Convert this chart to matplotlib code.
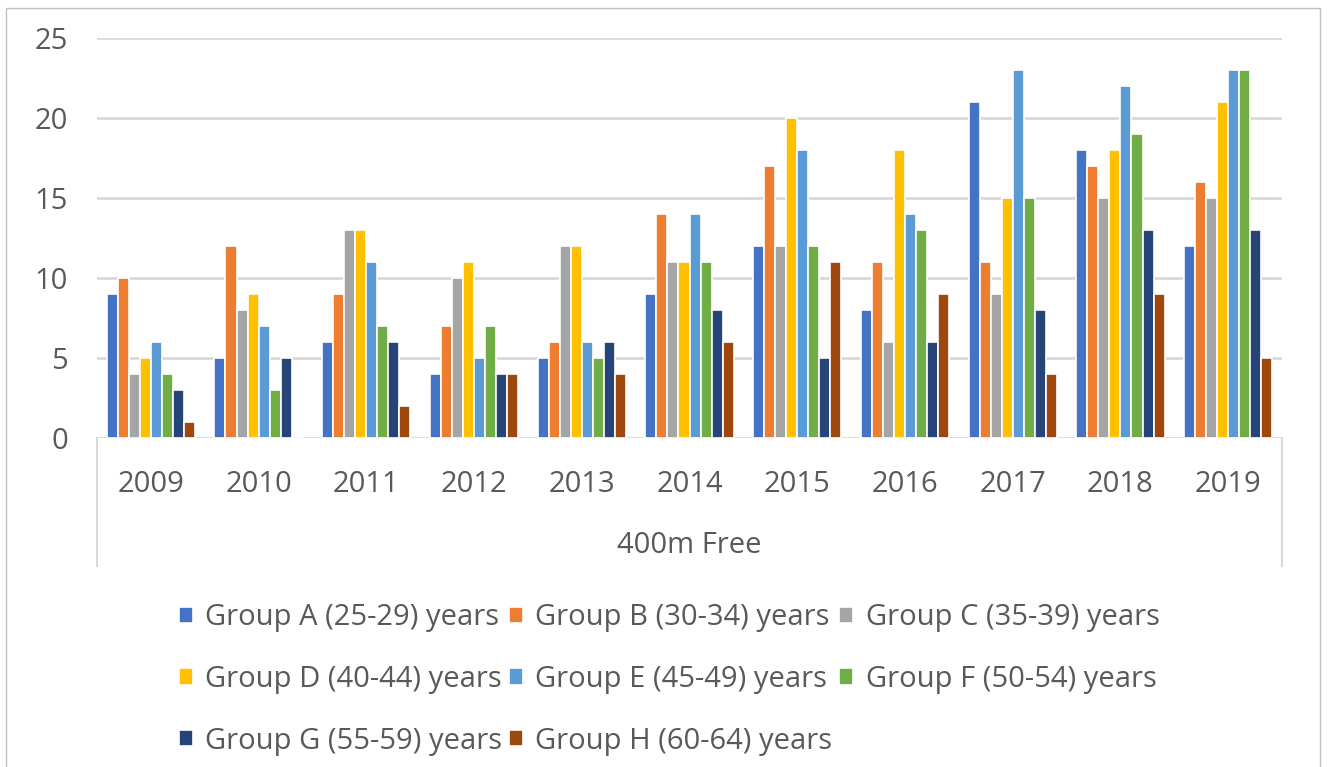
import matplotlib
matplotlib.use("Agg")
import matplotlib.pyplot as plt
from matplotlib.lines import Line2D
from matplotlib.patches import Rectangle
import numpy as np

plt.rcParams['font.family'] = ['Open Sans', 'DejaVu Sans']

years = ['2009', '2010', '2011', '2012', '2013', '2014', '2015', '2016', '2017', '2018', '2019']
groups = ['Group A (25-29) years', 'Group B (30-34) years', 'Group C (35-39) years',
          'Group D (40-44) years', 'Group E (45-49) years', 'Group F (50-54) years',
          'Group G (55-59) years', 'Group H (60-64) years']
group_a = [9, 5, 6, 4, 5, 9, 12, 8, 21, 18, 12]
group_b = [10, 12, 9, 7, 6, 14, 17, 11, 11, 17, 16]
group_c = [4, 8, 13, 10, 12, 11, 12, 6, 9, 15, 15]
group_d = [5, 9, 13, 11, 12, 11, 20, 18, 15, 18, 21]
group_e = [6, 7, 11, 5, 6, 14, 18, 14, 23, 22, 23]
group_f = [4, 3, 7, 7, 5, 11, 12, 13, 15, 19, 23]
group_g = [3, 5, 6, 4, 6, 8, 5, 6, 8, 13, 13]
group_h = [1, 0, 2, 4, 4, 6, 11, 9, 4, 9, 5]
series = [group_a, group_b, group_c, group_d, group_e, group_f, group_g, group_h]
colors = ['#4472C4', '#ED7D31', '#A5A5A5', '#FFC000', '#5B9BD5', '#70AD47', '#264478', '#9E480E']

text_col = '#595959'
grid_col = '#d9d9d9'

fig = plt.figure(figsize=(13.27, 7.67), dpi=100)
ax = fig.add_axes([0.0731, 0.4289, 0.893, 0.5216])

x = np.arange(len(years))
slot = 0.82 / len(series)
handles = []
for i, (vals, c) in enumerate(zip(series, colors)):
    off = (i - (len(series) - 1) / 2) * slot
    b = ax.bar(x + off, vals, width=slot, color=c, edgecolor='white', linewidth=1.2, zorder=3)
    handles.append(b)

ax.set_xlim(-0.5, len(years) - 0.5)
ax.set_ylim(0, 25)
ax.set_yticks(range(0, 26, 5))
ax.yaxis.grid(True, color=grid_col, linewidth=2)
ax.set_axisbelow(True)
for s in ax.spines.values():
    s.set_visible(False)
ax.tick_params(axis='y', length=0, pad=21, labelsize=21, labelcolor=text_col)
ax.set_xticks(x)
ax.set_xticklabels(years)
ax.tick_params(axis='x', length=0, pad=23, labelsize=21, labelcolor=text_col)

# category axis frame
for xa in (0, 1):
    ax.add_line(Line2D([xa, xa], [0, -0.32], transform=ax.transAxes, color=grid_col,
                       linewidth=1.5, clip_on=False))
ax.text(0.5, -0.2675, '400m Free', transform=ax.transAxes, ha='center', va='center',
        fontsize=21, color=text_col)

# legend, column-major order so rows read A B C / D E F / G H
order = [0, 3, 6, 1, 4, 7, 2, 5]
fig.legend([handles[i] for i in order], [groups[i] for i in order], ncol=3,
           loc='upper left', bbox_to_anchor=(0.115, 0.2477), frameon=False,
           fontsize=21, labelcolor=text_col, handlelength=0.48, handleheight=0.48,
           handletextpad=0.42, columnspacing=0.24, labelspacing=1.12)

fig.patches.append(Rectangle((0.0045, -0.01), 0.99, 1.0, transform=fig.transFigure,
                             fill=False, edgecolor='#bfbfbf', linewidth=1))

fig.savefig('out.png', dpi=100)
